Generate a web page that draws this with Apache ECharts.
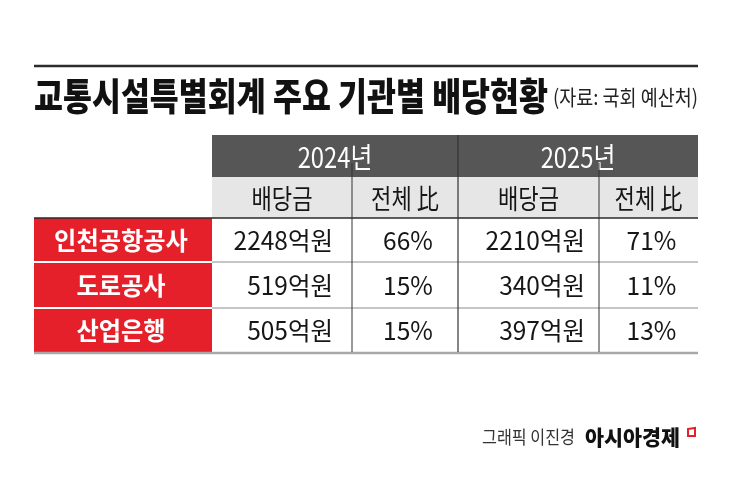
<!DOCTYPE html>
<html><head><meta charset="utf-8">
<script src="https://cdn.jsdelivr.net/npm/echarts@6/dist/echarts.min.js"></script>
<style>html,body{margin:0;padding:0;background:#fff}#main{width:745px;height:487px}</style>
</head><body><div id="main"></div>
<script>
// ---------- data ----------
const title = '교통시설특별회계 주요 기관별 배당현황';
const source = '(자료: 국회 예산처)';
const credit = '그래픽 이진경';
const brand = '아시아경제';
const years = ['2024년', '2025년'];
const subHeaders = ['배당금', '전체 比'];
const institutions = ['인천공항공사', '도로공사', '산업은행'];
const dividend2024 = [2248, 519, 505];
const share2024 = [66, 15, 15];
const dividend2025 = [2210, 340, 397];
const share2025 = [71, 11, 13];
const amountUnit = '억원';
const shareUnit = '%';

// ---------- layout / style ----------
const FAMILY = '"Noto Sans CJK KR", "Noto Sans", sans-serif';
const TABLE = { left: 34, top: 135, width: 664, height: 218 };
const colEdges = [0, 178, 318, 424, 565, 664];
const rowEdges = [0, 42, 83, 127, 173, 218];
const C = { dark: '#565656', sub: '#e6e6e6', red: '#e5202b', text: '#161616' };

const ctx = document.createElement('canvas').getContext('2d');
function fit(text, size, weight, w) {
  ctx.font = weight + ' ' + size + 'px ' + FAMILY;
  return w / ctx.measureText(text).width;
}

// ---------- build cells ----------
const cells = [];   // numeric extents
const meta = [];    // text + style info
function addCell(c0, c1, r0, r1, info) {
  cells.push([colEdges[c0], colEdges[c1], rowEdges[r0], rowEdges[r1]]);
  meta.push(info);
}
years.forEach((y, i) => {
  addCell(1 + 2 * i, 3 + 2 * i, 0, 1, { kind: 'dark', text: y });
  subHeaders.forEach((s, j) => addCell(1 + 2 * i + j, 2 + 2 * i + j, 1, 2, { kind: 'sub', text: s }));
});
const yearData = [[dividend2024, share2024], [dividend2025, share2025]];
institutions.forEach((name, r) => {
  addCell(0, 1, 2 + r, 3 + r, { kind: 'label', text: name });
  yearData.forEach((pair, i) => {
    addCell(1 + 2 * i, 2 + 2 * i, 2 + r, 3 + r, { kind: 'amount', text: pair[0][r] + amountUnit, pad: i === 0 ? 19 : 14 });
    addCell(2 + 2 * i, 3 + 2 * i, 2 + r, 3 + r, { kind: 'share', text: pair[1][r] + shareUnit });
  });
});

// rules: [x0, y0, x1, y1] in table units with style
const rules = [
  { v: [0, 83, 664, 83], color: '#2a2a2a', w: 1.5 },
  { v: [0, 127, 178, 127], color: '#ffffff', w: 2 },
  { v: [178, 127, 664, 127], color: '#8c8c8c', w: 1 },
  { v: [0, 173, 178, 173], color: '#ffffff', w: 2 },
  { v: [178, 173, 664, 173], color: '#8c8c8c', w: 1 },
  { v: [0, 218, 664, 218], color: '#a8a8a8', w: 2.5 },
  { v: [318, 28, 318, 217], color: '#333333', w: 1 },
  { v: [424, 0, 424, 217], color: '#333333', w: 1.2 },
  { v: [565, 28, 565, 217], color: '#333333', w: 1 }
];

function txt(x, y, text, size, weight, fill, align, s) {
  return {
    type: 'text', x: x, y: y, scaleX: s || 1,
    style: { text: text, fontSize: size, fontWeight: weight, fontFamily: FAMILY,
             fill: fill, align: align, verticalAlign: 'middle' }
  };
}

function renderCell(params, api) {
  const m = meta[params.dataIndex];
  const p0 = api.coord([api.value(0), api.value(2)]);
  const p1 = api.coord([api.value(1), api.value(3)]);
  const x0 = p0[0], y0 = p0[1], x1 = p1[0], y1 = p1[1];
  const cx = (x0 + x1) / 2, cy = (y0 + y1) / 2;
  const children = [];
  if (m.kind === 'dark') {
    children.push({ type: 'rect', shape: { x: x0, y: y0, width: x1 - x0, height: y1 - y0 }, style: { fill: C.dark } });
    children.push(txt(cx, cy + 1, m.text, 28, 'normal', '#ffffff', 'center', 0.85));
  } else if (m.kind === 'sub') {
    children.push({ type: 'rect', shape: { x: x0, y: y0, width: x1 - x0, height: y1 - y0 }, style: { fill: C.sub } });
    children.push(txt(cx, cy + 1, m.text, 27, 'normal', C.text, 'center', 0.82));
  } else if (m.kind === 'label') {
    children.push({ type: 'rect', shape: { x: x0, y: y0, width: x1 - x0, height: y1 - y0 }, style: { fill: C.red } });
    children.push(txt(cx - 2, cy, m.text, 25, 'bold', '#ffffff', 'center', 0.97));
  } else if (m.kind === 'amount') {
    children.push(txt(x1 - m.pad, cy, m.text, 25, 'normal', C.text, 'right', 0.98));
  } else {
    children.push(txt(cx + 3, cy, m.text, 25, 'normal', C.text, 'center', 0.98));
  }
  return { type: 'group', children: children };
}

function renderRule(params, api) {
  const r = rules[params.dataIndex];
  const a = api.coord([api.value(0), api.value(1)]);
  const b = api.coord([api.value(2), api.value(3)]);
  return { type: 'line', shape: { x1: a[0], y1: a[1], x2: b[0], y2: b[1] }, style: { stroke: r.color, lineWidth: r.w } };
}

const chart = echarts.init(document.getElementById('main'), null, { renderer: 'canvas' });
chart.setOption({
  animation: false,
  backgroundColor: '#ffffff',
  grid: { left: TABLE.left, top: TABLE.top, width: TABLE.width, height: TABLE.height },
  xAxis: { type: 'value', min: 0, max: TABLE.width, show: false },
  yAxis: { type: 'value', min: 0, max: TABLE.height, inverse: true, show: false },
  graphic: [
    { type: 'line', shape: { x1: 34, y1: 66, x2: 698, y2: 66 }, style: { stroke: '#2b2b2b', lineWidth: 2.5 } },
    txt(34, 96, title, 38, 900, '#111111', 'left', fit(title, 38, 900, 514)),
    txt(553, 97, source, 21, 'normal', '#222222', 'left', fit(source, 21, 'normal', 145)),
    txt(482, 437, credit, 18, 'normal', '#333333', 'left', fit(credit, 18, 'normal', 93)),
    txt(585, 437, brand, 21, 900, '#111111', 'left', fit(brand, 21, 900, 95)),
    { type: 'polygon', shape: { points: [[688, 429], [695, 428], [695, 436], [688, 436]] }, style: { fill: 'none', stroke: '#e5202b', lineWidth: 2 } }
  ],
  series: [
    { type: 'custom', clip: false, silent: true, data: cells, renderItem: renderCell, z: 2 },
    { type: 'custom', clip: false, silent: true, data: rules.map(r => r.v), renderItem: renderRule, z: 3 }
  ]
});
</script></body></html>
